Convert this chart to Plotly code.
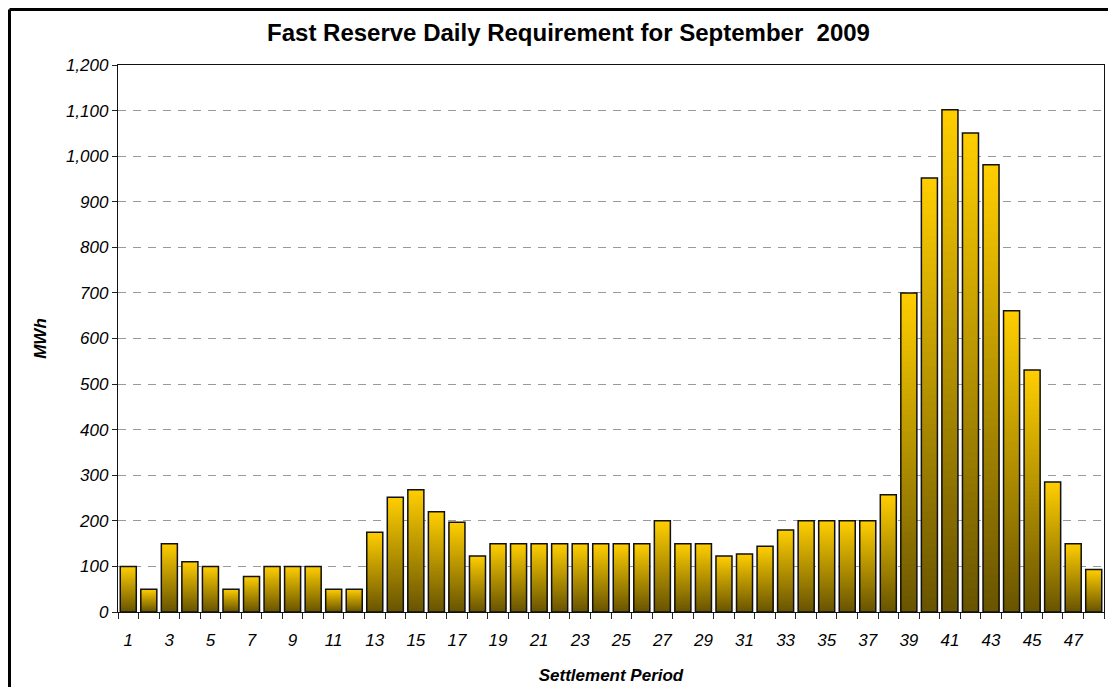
import plotly.graph_objects as go

# ---- data ----
periods = list(range(1, 49))
values = [100, 50, 150, 110, 100, 50, 78, 100, 100, 100, 50, 50,
          175, 252, 268, 220, 197, 123,
          150, 150, 150, 150, 150, 150, 150, 150,
          200, 150, 150, 123, 127, 144,
          180, 200, 200, 200, 200, 257,
          700, 952, 1102, 1051, 981, 661, 531, 285, 150, 93]
tick_vals = list(range(1, 49, 2))
tick_text = [str(v) for v in tick_vals]

title_text = "Fast Reserve Daily Requirement for September  2009"
x_title = "Settlement Period"
y_title = "MWh"

# ---- styling ----
FONT = "Liberation Sans, Arial, sans-serif"
top_rgb = (255, 206, 0)
bot_rgb = (104, 84, 0)
N = 60
BAR_W = 0.78

fig = go.Figure()

# gradient bars: overlapping bars from full height down to shortest
for k in range(N):
    frac_top = (N - k) / N
    frac_mid = (N - k - 0.5) / N
    c = tuple(int(round(b + (t - b) * frac_mid)) for t, b in zip(top_rgb, bot_rgb))
    fig.add_trace(go.Bar(
        x=periods,
        y=[v * frac_top for v in values],
        width=BAR_W,
        marker=dict(color="rgb(%d,%d,%d)" % c, line=dict(width=0)),
        hoverinfo="skip",
        showlegend=False,
    ))

# outline
fig.add_trace(go.Bar(
    x=periods, y=values, width=BAR_W,
    marker=dict(color="rgba(0,0,0,0)", line=dict(color="#111111", width=1.5)),
    showlegend=False,
))

# page has an 8px body margin; figure sized to fit the window exactly
W, H = 1100, 679
L, R, T, B = 110, 4, 57, 75
pw, ph = W - L - R, H - T - B

fig.update_layout(
    width=W, height=H,
    barmode="overlay",
    paper_bgcolor="white", plot_bgcolor="white",
    margin=dict(l=L, r=R, t=T, b=B, autoexpand=False),
    font=dict(family=FONT, color="black"),
    title=dict(text=title_text, x=(560.5 / W), xanchor="center",
               y=1 - 25 / H, yanchor="middle",
               font=dict(family=FONT, size=24, weight="bold", color="black")),
    xaxis=dict(
        range=[0.5, 48.5],
        tickmode="array", tickvals=tick_vals, ticktext=tick_text,
        ticks="outside", ticklen=6, tickcolor="rgba(0,0,0,0)",
        ticklabelstandoff=6,
        tickfont=dict(family=FONT, size=17, style="italic", color="black"),
        showgrid=False, zeroline=False,
        showline=True, linecolor="#111111", linewidth=1.3, mirror=True,
        minor=dict(ticks="outside", ticklen=6, tickcolor="#222222", tickwidth=1,
                   tick0=0.5, dtick=1, showgrid=False),
        title=dict(text=x_title, standoff=20,
                   font=dict(family=FONT, size=17, weight="bold", style="italic", color="black")),
    ),
    yaxis=dict(
        range=[0, 1200], dtick=100, tick0=0, tickformat=",",
        ticks="outside", ticklen=5, tickcolor="#222222",
        tickfont=dict(family=FONT, size=17, style="italic", color="black"),
        showgrid=True, gridcolor="#9a9a9a", gridwidth=1, griddash="8px,7px",
        zeroline=False,
        showline=True, linecolor="#111111", linewidth=1.3, mirror=True,
        title=dict(text=y_title, standoff=14,
                   font=dict(family=FONT, size=17, weight="bold", style="italic", color="black")),
    ),
)

# outer chart border (top and left edges visible)
top_y = 1 + (T - 1.5) / ph
left_x = (1.5 - L) / pw
fig.add_shape(type="line", xref="paper", yref="paper",
              x0=left_x, x1=1 + 20 / pw, y0=top_y, y1=top_y,
              line=dict(color="black", width=3))
fig.add_shape(type="line", xref="paper", yref="paper",
              x0=left_x, x1=left_x, y0=top_y, y1=-(B + 20) / ph,
              line=dict(color="black", width=3))

fig.write_html("out.html")
